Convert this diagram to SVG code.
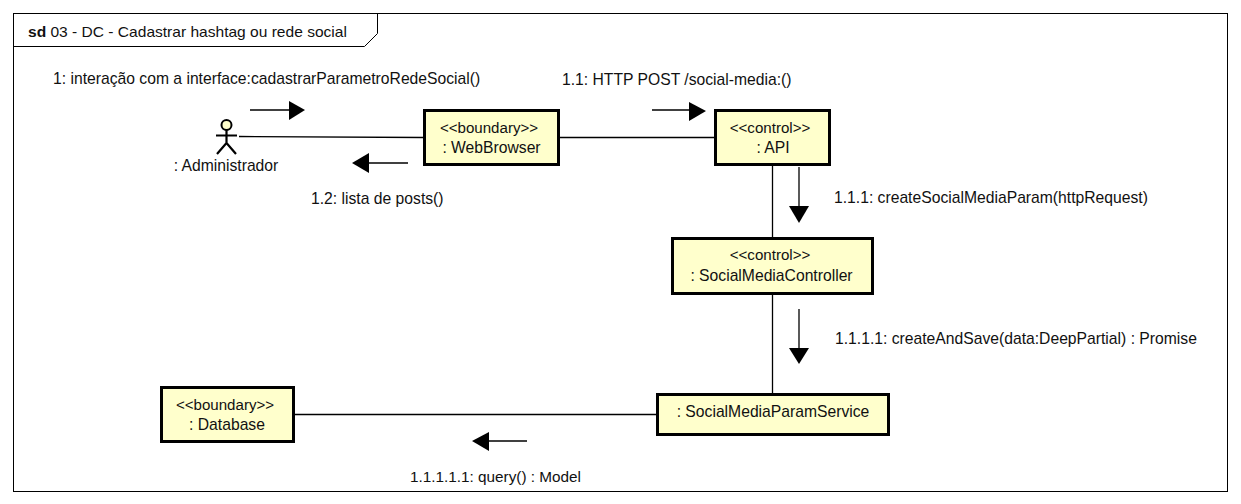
<svg xmlns="http://www.w3.org/2000/svg" width="1241" height="504" viewBox="0 0 1241 504">
<style>
text{font-family:"Liberation Sans",Arial,sans-serif;font-size:15.7px;fill:#111}
.c{text-anchor:middle}
.s{font-size:15.1px}
.n{fill:#ffffcc;stroke:#000;stroke-width:3}
.l{fill:none;stroke:#000;stroke-width:1.3}
.a{fill:#000;stroke:none}
</style>
<rect width="1241" height="504" fill="#fff"/>
<g id="frame">
<rect x="13.500" y="13.500" width="1214" height="478" fill="#fff" stroke="#000" stroke-width="1"/>
<path d="M13.500 46.500H364.500L377.500 33.500V13.500" fill="none" stroke="#000" stroke-width="1"/>
<text x="28" y="37" style="font-size:15.55px"><tspan font-weight="bold">sd</tspan> 03 - DC - Cadastrar hashtag ou rede social</text>
</g>
<g id="connectors">
<path class="l" d="M239 136.500L424 137.500"/>
<path class="l" d="M559 137.500H715"/>
<path class="l" d="M772.500 165V238"/>
<path class="l" d="M772.500 294V393"/>
<path class="l" d="M295 414.500H657"/>
<path class="l" d="M250 110H289"/>
<path class="a" d="M289 101L305 110L289 120Z"/>
<path class="l" d="M408 163H369"/>
<path class="a" d="M369 153L352 163L369 173Z"/>
<path class="l" d="M652 110H690"/>
<path class="a" d="M689 102L706 111L689 121Z"/>
<path class="l" d="M799 167V206"/>
<path class="a" d="M789 206H809L799 223Z"/>
<path class="l" d="M799 309V348"/>
<path class="a" d="M789 348H809L799 364Z"/>
<path class="l" d="M527 441H489"/>
<path class="a" d="M489 432L472 441L489 451Z"/>
</g>
<g id="actor-administrador">
<circle cx="226.500" cy="125" r="5" fill="#ffffcc" stroke="#000" stroke-width="2"/>
<path d="M226.500 130V143M216 135.500H237M226.500 143L217 154M226.500 143L236 154" fill="none" stroke="#000" stroke-width="2.200"/>
<text x="226" y="171" class="c">: Administrador</text>
</g>
<g id="node-webbrowser">
<rect class="n" x="424.500" y="110.500" width="134" height="54"/>
<text x="489" y="133" class="c s">&lt;&lt;boundary&gt;&gt;</text>
<text x="491.500" y="153" class="c">: WebBrowser</text>
</g>
<g id="node-api">
<rect class="n" x="715.500" y="110.500" width="114" height="54"/>
<text x="770" y="133" class="c s">&lt;&lt;control&gt;&gt;</text>
<text x="773" y="153" class="c">: API</text>
</g>
<g id="node-controller">
<rect class="n" x="672.500" y="238.500" width="200" height="55"/>
<text x="770" y="260" class="c s">&lt;&lt;control&gt;&gt;</text>
<text x="771.500" y="281" class="c">: SocialMediaController</text>
</g>
<g id="node-service">
<rect class="n" x="657.500" y="394.500" width="231" height="40"/>
<text x="773" y="417" class="c">: SocialMediaParamService</text>
</g>
<g id="node-database">
<rect class="n" x="161.500" y="387.500" width="132" height="54"/>
<text x="225" y="410" class="c s">&lt;&lt;boundary&gt;&gt;</text>
<text x="227" y="430" class="c">: Database</text>
</g>
<g id="labels">
<text x="53" y="84">1: interação com a interface:cadastrarParametroRedeSocial()</text>
<text x="311" y="204">1.2: lista de posts()</text>
<text x="562" y="85">1.1: HTTP POST /social-media:()</text>
<text x="834" y="203">1.1.1: createSocialMediaParam(httpRequest)</text>
<text x="835" y="344">1.1.1.1: createAndSave(data:DeepPartial) : Promise</text>
<text x="410" y="482" style="font-size:15.3px">1.1.1.1.1: query() : Model</text>
</g>
</svg>
